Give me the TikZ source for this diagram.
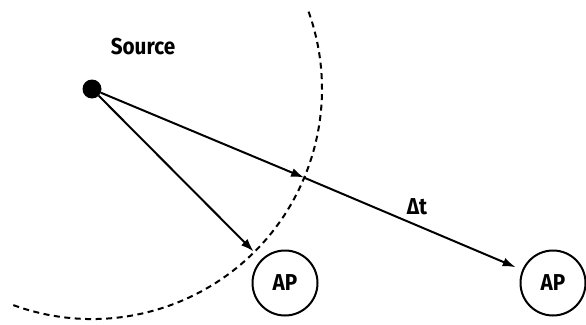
\documentclass[tikz,border=0pt]{standalone}
\usepackage{fontspec}
\setmainfont{Fira Sans}[FakeStretch=0.9]
\usetikzlibrary{arrows.meta}
\begin{document}
\begin{tikzpicture}[x=1pt,y=-1pt,
  lbl/.style={font=\fontsize{23}{25}\selectfont\bfseries, inner sep=0pt},
  apnode/.style={circle, draw, line width=2pt, minimum size=65pt, inner sep=0pt, font=\fontsize{23}{25}\selectfont\bfseries},
  arr/.style={line width=2pt, -{Latex[length=13pt,width=9pt]}},
  wave/.style={line width=2pt, dash pattern=on 6pt off 4.5pt}]
\useasboundingbox (0,0) rectangle (586,324);
\node[circle, fill=black, minimum size=19pt, inner sep=0pt] (src) at (92,89) {};
\node[lbl] (srclbl) at (143,47) {Source};
\node[apnode] (ap1) at (285,283) {AP};
\node[apnode] (ap2) at (553,283) {AP};
\draw[wave] (src.center) ++(110:230) arc[start angle=110, end angle=-20, radius=230];
\coordinate (p1) at (305,178);
\draw[arr, shorten >=1pt] (src) -- (p1);
\draw[arr, shorten >=7pt] (p1) -- (ap2);
\draw[arr, shorten >=11pt] (src) -- (ap1);
\node[lbl] (dt) at (417,207) {Δt};
\end{tikzpicture}
\end{document}
